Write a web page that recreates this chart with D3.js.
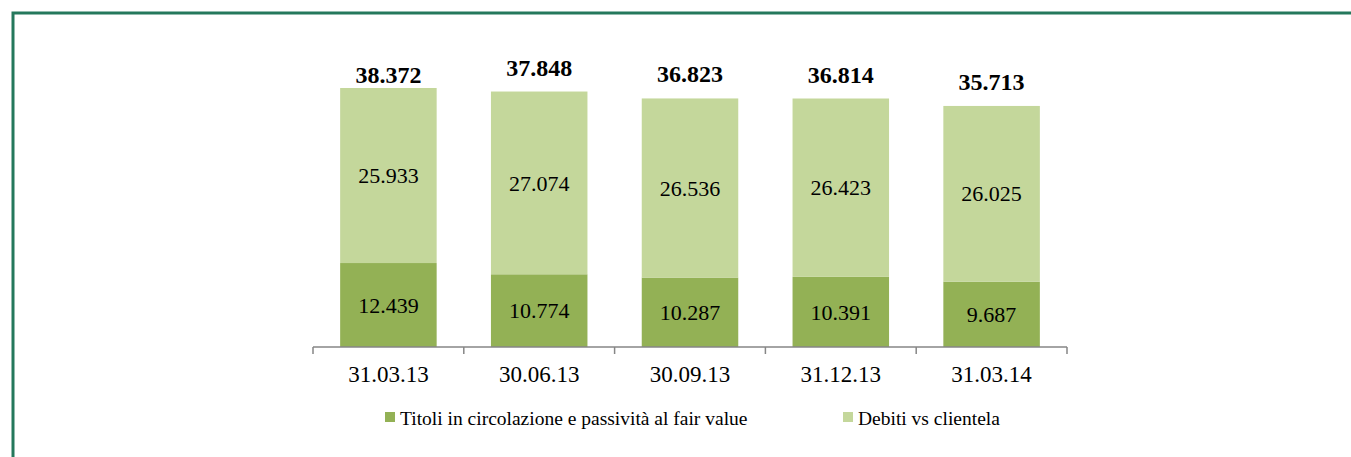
<!DOCTYPE html>
<html>
<head>
<meta charset="utf-8">
<script src="https://cdn.jsdelivr.net/npm/d3@7"></script>
<style>
  body { margin: 0; background: #fff; }
  svg { display: block; font-family: "Times New Roman", "Liberation Serif", "DejaVu Serif", serif; }
</style>
</head>
<body>
<div id="chart"></div>
<script>
// data
var categories = ["31.03.13", "30.06.13", "30.09.13", "31.12.13", "31.03.14"];
var titoli = [12.439, 10.774, 10.287, 10.391, 9.687];
var debiti = [25.933, 27.074, 26.536, 26.423, 26.025];
var totals = [38.372, 37.848, 36.823, 36.814, 35.713];
var seriesNames = ["Titoli in circolazione e passività al fair value", "Debiti vs clientela"];
var seriesColors = ["#93b155", "#c4d79b"];

var W = 1351, H = 457;
var fmt = function(v){ return v.toFixed(3); };

var svg = d3.select("#chart").append("svg").attr("width", W).attr("height", H);

// frame
svg.append("rect")
   .attr("x", 13).attr("y", 13)
   .attr("width", W).attr("height", H)
   .attr("fill", "none")
   .attr("stroke", "#25785c")
   .attr("stroke-width", 3);

var x = d3.scaleBand().domain(categories).range([313, 1067]).paddingInner(0.36).paddingOuter(0.18);
var y = d3.scaleLinear().domain([0, 40]).range([347, 77]);

var rows = categories.map(function(c, i){
	return {cat: c, a: titoli[i], b: debiti[i], tot: totals[i]};
});

var g = svg.append("g");

// dark segment
g.selectAll("rect.a").data(rows).enter().append("rect")
 .attr("class", "a")
 .attr("x", function(d){ return x(d.cat); })
 .attr("width", x.bandwidth())
 .attr("y", function(d){ return y(d.a); })
 .attr("height", function(d){ return y(0) - y(d.a); })
 .attr("fill", seriesColors[0]);

// light segment, stacked on top
g.selectAll("rect.b").data(rows).enter().append("rect")
 .attr("class", "b")
 .attr("x", function(d){ return x(d.cat); })
 .attr("width", x.bandwidth())
 .attr("y", function(d){ return y(d.a + d.b); })
 .attr("height", function(d){ return y(d.a) - y(d.a + d.b); })
 .attr("fill", seriesColors[1]);

// labels in segments
g.selectAll("text.la").data(rows).enter().append("text")
 .attr("x", function(d){ return x(d.cat) + x.bandwidth() / 2; })
 .attr("y", function(d){ return (y(0) + y(d.a)) / 2; })
 .attr("dy", "0.35em")
 .attr("text-anchor", "middle")
 .style("font-size", "22px")
 .attr("fill", "#000")
 .text(function(d){ return fmt(d.a); });

g.selectAll("text.lb").data(rows).enter().append("text")
 .attr("x", function(d){ return x(d.cat) + x.bandwidth() / 2; })
 .attr("y", function(d){ return (y(d.a) + y(d.a + d.b)) / 2; })
 .attr("dy", "0.35em")
 .attr("text-anchor", "middle")
 .style("font-size", "22px")
 .attr("fill", "#000")
 .text(function(d){ return fmt(d.b); });

// totals (the first one sits closer to its bar, as in the original)
g.selectAll("text.tot").data(rows).enter().append("text")
 .attr("x", function(d){ return x(d.cat) + x.bandwidth() / 2; })
 .attr("y", function(d, i){ return y(d.a + d.b) - (i === 0 ? 5 : 16); })
 .attr("text-anchor", "middle")
 .style("font-size", "24px")
 .style("font-weight", "bold")
 .text(function(d){ return fmt(d.tot); });

// axis
var axis = svg.append("g").attr("transform", "translate(0," + y(0) + ")");
axis.append("line")
    .attr("x1", 313).attr("x2", 1067)
    .attr("stroke", "#868686").attr("stroke-width", 1.5);
var tickX = categories.map(function(c){ return x(c) - x.step() * x.paddingInner() / 2; });
tickX.push(1067);
axis.selectAll("line.tick").data(tickX).enter().append("line")
    .attr("x1", function(d){ return d; }).attr("x2", function(d){ return d; })
    .attr("y1", 0).attr("y2", 7)
    .attr("stroke", "#868686").attr("stroke-width", 1.5);
axis.selectAll("text").data(categories).enter().append("text")
    .attr("x", function(d){ return x(d) + x.bandwidth() / 2; })
    .attr("y", 35)
    .attr("text-anchor", "middle")
    .style("font-size", "23px")
    .text(function(d){ return d; });

// legend
var legX = [385, 843];
var leg = svg.selectAll("g.leg").data(seriesNames).enter().append("g")
    .attr("transform", function(d, i){ return "translate(" + legX[i] + ",412)"; });
leg.append("rect").attr("width", 10).attr("height", 10)
   .attr("fill", function(d, i){ return seriesColors[i]; });
leg.append("text").attr("x", 15).attr("y", 13)
   .style("font-size", "19.5px")
   .text(function(d){ return d; });
</script>
</body>
</html>
